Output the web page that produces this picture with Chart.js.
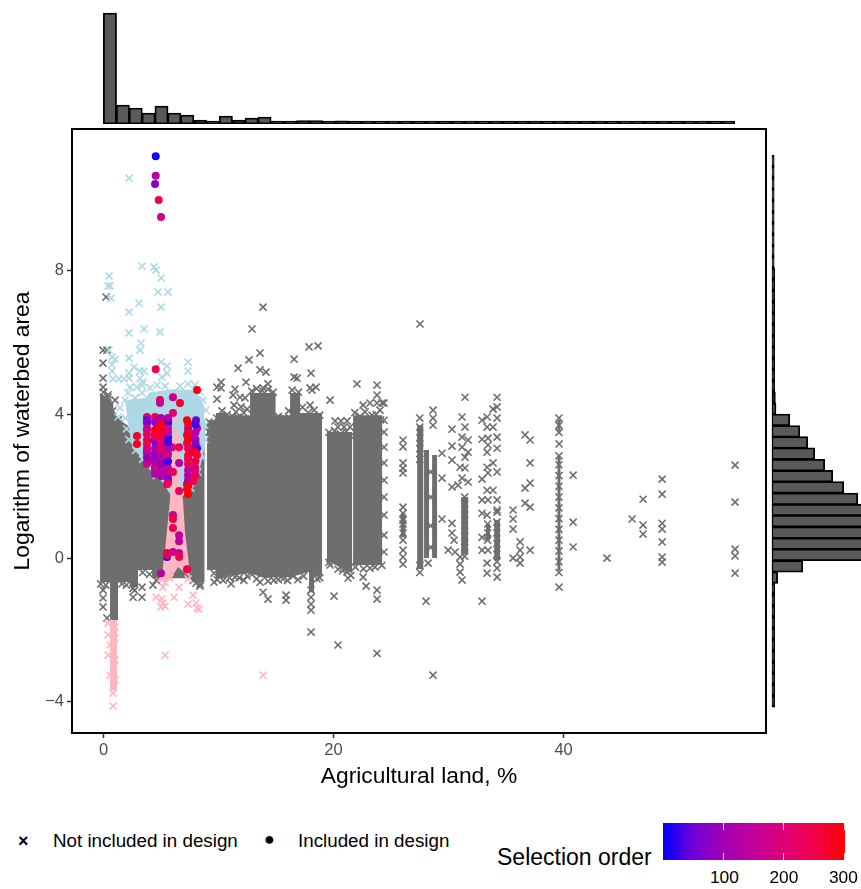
<!DOCTYPE html>
<html><head><meta charset="utf-8">
<script src="https://cdn.jsdelivr.net/npm/chart.js@4"></script>
<style>
html,body{margin:0;padding:0;background:#fff;overflow:hidden}
#stage{position:relative;width:861px;height:889px;font-family:"Liberation Sans",Arial,sans-serif;color:#000}
canvas{position:absolute}
.t{position:absolute;white-space:nowrap;line-height:1}
#bar{position:absolute;left:663px;top:823px;width:182px;height:37px}
.tk{position:absolute;width:1px;background:#fff;opacity:.85}
</style></head><body>
<div id="stage">
<canvas id="top" width="861" height="130" style="left:0;top:0"></canvas>
<canvas id="main" width="861" height="790" style="left:0;top:0"></canvas>
<canvas id="side" width="95" height="790" style="left:766px;top:0"></canvas>
<div class="t" style="left:18px;top:832px;font-size:18px;font-weight:bold">×</div>
<div class="t" style="left:53px;top:832px;font-size:18.8px">Not included in design</div>
<div class="t" style="left:264px;top:830px;font-size:18px">●</div>
<div class="t" style="left:298px;top:832px;font-size:18.8px">Included in design</div>
<div class="t" style="left:497px;top:846px;font-size:23px">Selection order</div>
<div id="bar"></div>
<div class="t" style="left:710px;top:869px;font-size:17.3px">100</div>
<div class="t" style="left:769.5px;top:869px;font-size:17.3px">200</div>
<div class="t" style="left:829px;top:869px;font-size:17.3px">300</div>
</div>
<script>
const xTickValues=[0,20,40];
const yTickValues=[-4,0,4,8];
const xLabel="Agricultural land, %";
const yLabel="Logarithm of waterbed area";

// Marginal histogram of agricultural land (bin centre, count)
const xBinCentres=[0.56,1.68,2.8,3.92,5.04,6.16,7.28,8.4,9.52,10.64,11.76,12.88,14,15.12,16.24,17.36,18.48,19.6,20.72,21.84,22.96,24.08,25.2,26.32,27.44,28.56,29.68,30.8,31.92,33.04,34.16,35.28,36.4,37.52,38.64,39.76,40.88,42,43.12,44.24,45.36,46.48,47.6,48.72,49.84,50.96,52.08,53.2,54.32];
const xBinCounts=[11100,1900,1600,1100,1800,1100,900,400,300,800,400,600,700,300,300,350,350,300,320,300,300,300,300,300,300,300,300,300,300,300,300,300,300,300,300,300,300,300,300,300,300,300,300,300,300,300,300,300,300];

// Marginal histogram of waterbed area (bin centre, count)
const yBinCentres=[-3.99,-3.68,-3.36,-3.05,-2.74,-2.42,-2.11,-1.8,-1.48,-1.17,-0.85,-0.54,-0.23,0.09,0.4,0.71,1.03,1.34,1.65,1.97,2.28,2.59,2.91,3.22,3.53,3.85,4.16,4.47,4.79,5.1,5.41,5.73,6.04,6.35,6.67,6.98,7.3,7.61,7.92,8.24,8.55,8.86,9.18,9.49,9.8,10.12,10.43,10.75,11.06];
const yBinCounts=[300,300,300,300,300,300,300,300,300,300,300,600,3100,10200,11500,12000,11200,9800,8600,7200,6100,5300,4300,3600,2800,1800,430,370,300,300,300,300,300,300,300,300,300,300,300,250,250,250,250,250,250,250,250,250,250];

const grayBandMain=[[-0.3,4.6],[0.3,4.48],[0.83,4.32],[0.91,4.04],[1.78,3.76],[2.74,3.57],[8.78,3.84],[8.78,-0.67],[8.04,-0.67],[7.52,-0.56],[5.09,-0.56],[4.22,-0.56],[4.22,-0.33],[3,-0.33],[3,-0.81],[2.3,-0.81],[2.3,-0.67],[1.26,-0.67],[1.26,-1.73],[0.57,-1.73],[0.57,-0.67],[-0.3,-0.67]];
const grayBandB=[[9,3.84],[9.78,3.84],[9.78,-0.33],[9,-0.33]];
const grayBandC=[[9.78,4.04],[10.65,4.04],[10.83,3.98],[12.74,3.98],[12.74,4.6],[14.96,4.6],[14.96,3.98],[16.22,3.98],[16.22,4.6],[17.09,4.6],[17.09,4.04],[19,4.04],[19,-0.47],[18.3,-0.53],[18.3,-0.95],[17.87,-0.95],[17.87,-0.39],[16.22,-0.53],[14.96,-0.53],[14.04,-0.56],[12.74,-0.42],[10.83,-0.5],[10.65,-0.56],[9.78,-0.56]];
const grayBandD=[[19.43,3.51],[21.61,3.51],[21.61,-0.42],[20.48,-0.25],[19.43,-0.06]];
const grayBandE=[[21.7,3.98],[24.22,3.98],[24.22,-0.19],[21.7,-0.19]];
const grayColumns=[
 [[25.85,1.25],[26.25,1.25],[26.25,0.58],[25.85,0.58]],
 [[27.27,3.7],[27.8,3.7],[27.8,-0.3],[27.27,-0.3]],
 [[27.87,3.01],[28.3,3.01],[28.3,0],[27.87,0]],
 [[28.57,2.87],[29,2.87],[29,0],[28.57,0]],
 [[31.1,1.7],[31.7,1.7],[31.7,0.1],[31.1,0.1]],
 [[33.25,0.95],[33.6,0.95],[33.6,0.5],[33.25,0.5]],
 [[33.97,1.06],[34.47,1.06],[34.47,-0.05],[33.97,-0.05]],
 [[39.47,3.85],[39.73,3.85],[39.73,3.55],[39.47,3.55]],
 [[39.47,2.85],[39.73,2.85],[39.73,-0.35],[39.47,-0.35]]
];
const blueCloud=[[1.87,4.4],[3.61,4.46],[4.04,4.62],[6.22,4.71],[7.96,4.68],[8.74,4.26],[8.83,3.15],[8.39,2.51],[7.7,1.95],[7.26,1.75],[5.96,1.7],[5.09,2.12],[3.87,2.51],[2.48,3.15],[2.3,3.43],[2.04,3.98]];
const pinkCloud=[[6.04,3.43],[6.65,3.43],[6.65,2.09],[6.91,1.62],[7.09,0.7],[7.35,0.03],[7.52,-0.53],[6.48,-0.25],[5.78,-0.61],[4.65,-0.67],[5.09,-0.42],[5.35,0.22],[5.78,1.62],[6.04,3.01]];
const pinkColumn=[[0.57,-1.73],[1.17,-1.73],[1.17,-3.68],[0.57,-3.68]];

// Individually readable points not in the design
const grayTop=[[13.87,6.99],[12.91,6.38],[17.87,5.88],[18.65,5.91],[13.61,5.71],[12.65,5.52],[16.57,5.54],[11.7,5.29],[13.61,5.24],[14.13,5.18],[18.04,5.15],[12.39,4.9],[16.57,5.04],[16.83,5.01],[10.22,4.9],[9.87,4.76],[10.22,4.74],[14.3,4.85],[13.87,4.74],[17.96,4.74],[18.48,4.76],[18.13,4.68],[22.04,4.85],[23.78,4.82],[11.43,4.71],[9.87,4.43],[19.7,4.4],[17.96,4.26],[23.78,4.54],[22.57,4.26],[23.17,4.32],[23.78,4.32],[24.22,4.32],[11.26,4.54],[11.87,4.48],[12.3,4.46],[11.35,4.26],[11.96,4.21],[12.48,4.15],[11.52,4.07],[20.13,3.82],[20.65,3.82],[21.17,3.82],[20.39,3.65],[20.91,3.65],[21.43,3.65],[9.17,3.79],[9.17,3.51],[9.43,3.65],[22.74,4.07],[23.35,3.98],[24.04,4.12],[-0.04,5.79],[0.3,5.79],[-0.04,5.43],[0.22,7.27],[-0.04,5.01],[-0.04,4.76],[0.39,4.48],[1,4.4]];
const grayBottom=[[13.87,-0.95],[14.3,-1.14],[15.87,-1.03],[15.87,-1.17],[20.04,-1.06],[18.04,-0.89],[18.04,-1.09],[18.04,-1.28],[18.04,-1.45],[18.04,-2.06],[20.39,-2.42],[23.78,-2.65],[22.83,-0.78],[22.57,-0.53],[23.78,-0.89],[23.78,-1.14],[21.26,-0.56],[11.09,-0.72],[9.61,-0.67],[9.61,-0.42],[13.61,-0.67],[14.3,-0.64],[15.61,-0.58],[16.48,-0.5],[12.48,-0.5],[11.43,-0.53],[18.57,-0.58],[21.17,-0.39],[19.7,-0.19],[20.39,-0.31],[22.04,-0.06],[23.17,-0.28],[-0.04,-0.89],[-0.04,-1.11],[-0.04,-1.36],[2.57,-0.84],[2.57,-1.09],[3.35,-0.81],[3.35,-1.09],[4.3,-0.75],[0.3,-1.67],[8.04,-0.7],[8.39,-0.78]];
const grayRight=[[27.52,6.52],[26.04,3.29],[26.04,2.65],[26.04,2.37],[26.04,1.42],[26.04,1.06],[26.04,0.22],[26.04,0.03],[26.04,-0.17],[24.39,4.32],[24.39,3.84],[24.39,3.51],[24.39,3.09],[24.39,2.65],[24.39,2.17],[24.39,1.7],[24.39,1.2],[24.39,0.64],[24.39,0.17],[28.65,4.12],[28.65,3.9],[28.65,3.7],[28.22,-0.14],[28.45,2.4],[28.45,1.7],[28.45,0.9],[28.45,0.3],[29.43,2.92],[29.43,2.23],[29.43,1.09],[30.3,3.59],[30.3,3.12],[30.3,2.73],[31,2.53],[30.3,1.98],[31.17,3.93],[31.43,4.48],[31.43,3.65],[31.17,3.37],[31.7,3.29],[31.17,3.09],[31.7,2.95],[31.43,2.81],[31.43,2.51],[31.17,2.23],[31.7,2.12],[30.83,2.03],[30.3,0.97],[30.3,0.7],[30.48,0.5],[29.96,0.22],[30.57,0.17],[31,0.03],[31,-0.17],[31,-0.39],[31.17,-0.61],[32.91,3.84],[33.35,3.93],[33.87,4.15],[34.22,4.48],[34.22,4.21],[34.22,3.9],[33.35,3.65],[33.87,3.65],[32.91,3.31],[33.43,3.34],[34.22,3.37],[33.43,3.15],[34.22,3.06],[33.35,2.95],[33.87,2.65],[33.35,2.53],[34.22,2.4],[33.43,2.37],[32.91,2.2],[33.35,1.89],[33.87,1.89],[33.43,1.62],[34.22,1.62],[32.91,1.62],[34.22,1.34],[32.91,1.25],[33.35,1.2],[34.22,1.28],[32.91,0.58],[32.91,0.22],[33.43,0.22],[33.35,-0.14],[33.35,-0.42],[34.22,-0.28],[34.22,-0.53],[32.91,-1.2],[28.04,-1.2],[28.65,-3.26],[35.61,1.34],[35.61,1.09],[35.61,0.81],[35.61,0],[36.22,0.45],[36.22,0.22],[36.22,0.03],[36.22,-0.14],[37.09,0.22],[36.65,3.43],[37.09,3.29],[37.09,2.65],[37.09,2.09],[36.65,1.95],[36.65,1.53],[37.09,1.42],[39.61,3.18],[39.61,-0.81],[40.83,2.31],[40.83,1],[40.83,0.31],[43.78,0],[45.96,1.09],[46.91,1.64],[46.91,0.92],[46.91,0.67],[48.57,2.2],[48.57,1.78],[48.57,0.97],[48.57,0.81],[48.57,0.45],[48.57,0.03],[48.57,-0.11],[54.91,2.59],[54.91,1.56],[54.91,0.25],[54.91,0.06],[54.91,-0.42]];
const grayEdges=[[9.85,3.9],[10.3,4.1],[10.75,4],[11.2,3.95],[11.7,3.92],[12.2,4.05],[12.9,4.65],[13.3,4.72],[13.8,4.66],[14.3,4.7],[14.75,4.62],[15.2,3.95],[15.7,3.9],[16.1,4.1],[16.4,4.68],[16.95,4.62],[17.3,4.2],[17.8,4.05],[18.3,4.12],[18.8,3.98],[19.6,3.5],[20.1,3.55],[20.6,3.46],[21.1,3.52],[21.5,3.4],[21.85,4.05],[22.3,3.95],[22.8,3.85],[23.3,3.85],[23.7,4],[24.1,3.85],[0,4.62],[0.4,4.55],[0.8,4.1],[1.3,3.85],[9.9,-0.6],[10.4,-0.62],[10.95,-0.55],[11.8,-0.55],[12.2,-0.62],[12.9,-0.45],[13.3,-0.58],[14.8,-0.62],[15.2,-0.6],[16,-0.62],[16.9,-0.6],[17.4,-0.5],[18.8,-0.55],[19.6,-0.12],[20.8,-0.35],[21.5,-0.48],[21.9,-0.25],[22.6,-0.3],[23.6,-0.25],[24.2,-0.2],[-0.25,-0.72],[0.2,-0.75],[1.6,-0.72],[2,-0.75],[2.7,-0.9],[3.4,-0.4],[4,-0.45],[4.6,-0.62],[7.8,-0.62],[8.4,-0.72]];
const grayStacks=[[27.5,3.9],[27.5,3.65],[27.5,3.35],[27.5,3.05],[27.5,2.75],[27.5,-0.4],[27.5,-0.2],[39.6,3.9],[39.6,3.7],[39.6,3.5],[39.6,2.85],[39.6,2.6],[39.6,2.3],[39.6,2],[39.6,1.7],[39.6,1.4],[39.6,1.1],[39.6,0.8],[39.6,0.5],[39.6,0.2],[39.6,-0.1],[39.6,-0.4],[31.4,1.7],[31.4,1.5],[31.4,1.2],[31.4,0.9],[31.4,0.6],[31.4,0.3],[31.4,0.05],[34.2,1],[34.2,0.7],[34.2,0.4],[34.2,0.1],[34.2,-0.1],[33.4,0.95],[33.4,0.7],[33.4,0.5],[26.04,1.25],[26.04,0.95],[26.04,0.7],[26.04,0.5],[26.04,3.1],[26.04,2.5]];
const blueMarks=[[2.22,10.58],[3.35,8.13],[4.39,8.11],[4.57,8.02],[5,7.8],[0.48,7.86],[0.57,7.58],[0.39,7.58],[0.65,7.24],[4.74,7.41],[5.61,7.41],[3.09,7.1],[5,6.99],[2.22,6.85],[2.22,6.27],[3.52,6.38],[4.91,6.3],[3.26,5.99],[3.17,5.79],[2.22,5.57],[0.48,5.79],[1,5.54],[0.74,5.6],[0.74,5.38],[0.74,5.21],[2.65,5.32],[5,5.46],[7.35,5.46],[7.35,5.21],[5.52,5.35],[3.17,5.21],[3.52,5.21],[5.09,5.04],[5.52,5.15],[3.17,5.01],[3.43,4.9],[2.22,5.15],[2.22,5.01],[0.83,4.99],[1.35,4.99],[1.78,4.99],[2.3,4.76],[2.91,4.76],[3.35,4.82],[4.65,4.82],[7.35,4.85],[7.96,4.82],[2.13,4.6],[2.74,4.46],[3.35,4.6],[1.87,4.4],[1.43,4.18],[1.26,3.93],[4.04,4.74],[5.35,4.79],[6.65,4.79],[8.39,4.62],[8.65,4.4],[8.91,4.12],[2.3,4.26],[3,4.26],[1.9,3.9],[2,3.6],[2.2,3.3],[8.8,3.7],[8.8,3.3],[8.6,2.8],[8.2,2.4],[7.6,1.95],[4.6,2.3],[3.4,2.75],[2.8,3]];
const pinkMarks=[[6.3,3.84],[6.3,3.51],[6.3,3.2],[4.57,-1.09],[5.09,-1.14],[5.17,-1.25],[5,-1.36],[5.35,-1.34],[6.13,-1.09],[6.57,-0.81],[7.35,-0.58],[7.78,-1.03],[7.35,-1.28],[8.04,-1.25],[8.13,-1.39],[8.3,-1.42],[5.78,-0.56],[5.35,-0.67],[5.17,-0.81],[5.35,-2.7],[13.87,-3.26],[0.39,-1.81],[0.39,-2.14],[0.57,-2.42],[0.39,-2.7],[1,-1.92],[1,-2.23],[0.83,-3.76],[0.83,-4.12],[1,-2.84],[1,-3.4],[0.57,-3.26]];

// Points in the design: x, y, selection order
const designPoints=[[4.54,11.19,10],[4.54,10.65,130],[4.48,10.42,75],[4.8,9.97,240],[5,9.5,155],[4.54,5.26,240],[8.13,4.68,290],[4.91,4.4,245],[4.91,4.32,150],[6.04,4.48,170],[6.65,4.32,270],[6.04,4.04,210],[3.78,3.93,250],[4.48,3.93,240],[5,3.9,120],[5.61,3.84,100],[5.61,3.76,15],[7.26,3.84,295],[8.04,3.84,50],[3.78,3.76,40],[4.57,3.76,130],[5,3.65,200],[5.61,3.62,180],[7.35,3.62,120],[8.13,3.62,140],[3.78,3.57,260],[4.48,3.57,295],[5,3.48,280],[5.61,3.37,10],[5.96,3.09,200],[6.57,3.09,240],[7.26,3.43,250],[2.91,3.4,270],[2.91,3.18,280],[3.78,3.29,240],[3.78,3.18,250],[4.39,3.29,90],[4.57,3.15,60],[5,3.23,260],[5,3.15,130],[5.61,3.15,90],[7.78,3.34,130],[7.26,3.2,230],[7.7,3.06,250],[8.13,3.06,20],[7.52,2.92,270],[8.13,2.87,240],[3.78,2.98,60],[3.78,2.92,150],[4.48,2.92,70],[5,2.92,260],[5.52,2.81,70],[3.78,2.67,220],[3.78,2.62,170],[4.39,2.73,100],[5,2.73,230],[5.52,2.65,220],[4.48,2.53,120],[5,2.53,130],[5.61,2.51,170],[7.96,2.53,240],[7.96,2.45,170],[7.35,2.62,250],[6.57,2.65,120],[4.74,2.4,110],[5.17,2.37,140],[5.61,2.34,130],[6.04,2.4,230],[5.52,2.06,260],[7.35,2.31,120],[7.35,2.17,140],[7.78,2.14,250],[7.26,2.06,100],[7.26,1.92,295],[6.57,1.87,240],[6.04,1.2,150],[6.04,1.09,260],[6.04,0.84,240],[6.57,0.64,140],[6.57,0.47,140],[5.52,0.03,10],[5.52,0.14,260],[5.52,0.08,220],[6.04,0.17,170],[6.57,0.14,170],[6.57,0.03,240],[7.26,-0.31,250],[5,-0.42,130],
 [3.78,3.85,60],[3.78,3.62,150],[3.78,3.45,230],[3.78,3.05,180],[3.78,2.8,90],[4.48,3.8,100],[4.48,3.45,280],[4.48,3.38,250],[4.48,3.05,120],[4.48,2.85,90],[4.48,2.65,130],[4.48,2.45,200],[4.48,2.35,110],[5,3.75,280],[5,3.55,290],[5,3.32,240],[5,3.05,250],[5,2.85,130],[5,2.63,90],[5,2.42,150],[5,2.28,120],[5.61,3.9,130],[5.61,3.5,150],[5.61,3.25,30],[5.61,3,100],[5.61,2.87,200],[5.61,2.7,30],[5.61,2.2,60],[5.61,2.1,240],[7.35,3.75,290],[7.35,3.5,270],[7.35,3.3,295],[7.35,3.05,230],[7.35,2.85,280],[7.35,2.75,250],[7.35,2.45,150],[7.35,2,295],[7.35,1.78,290],[8,3.72,30],[8,3.5,120],[8,3.3,140],[8,3.2,60],[8,2.95,280],[8,2.7,250],[8,2.3,240]];

// Colour scale stops of the selection-order legend
const colourStops=[[0,[0,0,255]],[50,[113,0,216]],[100,[163,0,181]],[150,[196,0,154]],[200,[222,0,117]],[250,[240,0,74]],[300,[255,0,0]]];
const legendTicks=[100,200,300];

const GREY='#6e6e6e',LB='#add8e6',LP='#ffb6c1';
const XMIN=-2.74,XMAX=57.6,YMIN=-4.87,YMAX=11.95;
const pts=a=>a.map(p=>({x:p[0],y:p[1]}));
function orderColour(v){
  for(let i=1;i<colourStops.length;i++){
    const [a,ca]=colourStops[i-1],[b,cb]=colourStops[i];
    if(v<=b){const t=(v-a)/(b-a);return 'rgb('+ca.map((c,k)=>Math.round(c+(cb[k]-c)*t)).join(',')+')';}
  }
  return 'rgb(255,0,0)';
}
const poly=(a,c,o)=>({type:'line',data:pts(a),parsing:true,fill:'shape',backgroundColor:c,borderWidth:0,borderColor:c,pointRadius:0,tension:0,order:o,showLine:true});
const marks=(a,c,o)=>({data:pts(a),pointStyle:'crossRot',pointRadius:5,pointHoverRadius:5,borderColor:c,pointBorderColor:c,pointBorderWidth:1.6,backgroundColor:'transparent',showLine:false,order:o});

const base={responsive:false,animation:false,events:[],devicePixelRatio:1};
const noPl={legend:{display:false},tooltip:{enabled:false},title:{display:false}};
const frame={id:'frame',afterDatasetsDraw(c){const a=c.chartArea,x=c.ctx;x.save();x.strokeStyle='#000';x.lineWidth=2;x.strokeRect(a.left,a.top,a.right-a.left,a.bottom-a.top);x.restore();}};
const thinBars=(counts,c)=>counts.map(v=>v<=400?c:'#595959');

new Chart(document.getElementById('main'),{type:'scatter',
 data:{datasets:[
  poly(grayBandMain,GREY,20),poly(grayBandB,GREY,20),poly(grayBandC,GREY,20),poly(grayBandD,GREY,20),poly(grayBandE,GREY,20),
  ...grayColumns.map(c=>poly(c,GREY,20)),
  marks(grayTop,GREY,19),marks(grayBottom,GREY,19),marks(grayRight,GREY,19),marks(grayEdges,GREY,19),marks(grayStacks,GREY,19),
  poly(blueCloud,LB,18),marks(blueMarks,LB,17),
  poly(pinkCloud,LP,16),poly(pinkColumn,LP,16),marks(pinkMarks,LP,15),
  {data:designPoints.map(p=>({x:p[0],y:p[1]})),pointStyle:'circle',pointRadius:4,pointHoverRadius:4,pointBorderWidth:0,
   pointBackgroundColor:designPoints.map(p=>orderColour(p[2])),showLine:false,order:1}
 ]},
 options:{...base,layout:{padding:{top:129,right:95,left:0,bottom:0}},plugins:noPl,
  scales:{
   x:{type:'linear',min:XMIN,max:XMAX,afterFit:s=>{s.height=57},afterBuildTicks:s=>{s.ticks=xTickValues.map(v=>({value:v}))},
      grid:{drawOnChartArea:false,drawTicks:true,tickLength:5,tickColor:'#333',tickWidth:1.5},border:{color:'#000',width:2},
      ticks:{color:'#4d4d4d',font:{family:'Liberation Sans',size:16.5},padding:3,maxRotation:0},
      title:{display:true,text:xLabel,color:'#000',font:{family:'Liberation Sans',size:22.8},padding:{top:0,bottom:0}}},
   y:{type:'linear',min:YMIN,max:YMAX,afterFit:s=>{s.width=72},afterBuildTicks:s=>{s.ticks=yTickValues.map(v=>({value:v}))},
      grid:{drawOnChartArea:false,drawTicks:true,tickLength:5,tickColor:'#333',tickWidth:1.5},border:{color:'#000',width:2},
      ticks:{color:'#4d4d4d',font:{family:'Liberation Sans',size:16.5},padding:3,callback:v=>String(v).replace('-','\u2212')},
      title:{display:true,text:yLabel,color:'#000',font:{family:'Liberation Sans',size:22.8},padding:{top:9,bottom:0}}}
  }},plugins:[frame]});

new Chart(document.getElementById('top'),{type:'bar',
 data:{datasets:[{data:xBinCentres.map((c,i)=>({x:c,y:xBinCounts[i]})),backgroundColor:thinBars(xBinCounts,'#000'),borderColor:'#000',borderWidth:1.8,borderSkipped:false,barThickness:13.2}]},
 options:{...base,layout:{padding:{left:72,right:95,top:0,bottom:6}},plugins:noPl,
  scales:{x:{type:'linear',min:XMIN,max:XMAX,offset:false,display:false},y:{min:0,max:12400,display:false}}}});

new Chart(document.getElementById('side'),{type:'bar',
 data:{datasets:[{data:yBinCentres.map((c,i)=>({y:c,x:yBinCounts[i]})),backgroundColor:thinBars(yBinCounts,'#000'),borderColor:'#000',borderWidth:1.8,borderSkipped:false,barThickness:11.6}]},
 options:{...base,indexAxis:'y',layout:{padding:{left:5.7,right:0,top:129,bottom:57}},plugins:noPl,
  scales:{y:{type:'linear',min:YMIN,max:YMAX,offset:false,display:false},x:{min:0,max:8930,display:false}}}});

const bar=document.getElementById('bar');
bar.style.background='linear-gradient(to right,'+colourStops.map(s=>orderColour(s[0])+' '+(s[0]/300*100)+'%').join(',')+')';
legendTicks.forEach(v=>{const l=(v-2)/298*181;
 [[0,7],[30,7]].forEach(([t,h])=>{const d=document.createElement('div');d.className='tk';d.style.cssText='left:'+l+'px;top:'+t+'px;height:'+h+'px';bar.appendChild(d);});});
</script>
</body></html>
